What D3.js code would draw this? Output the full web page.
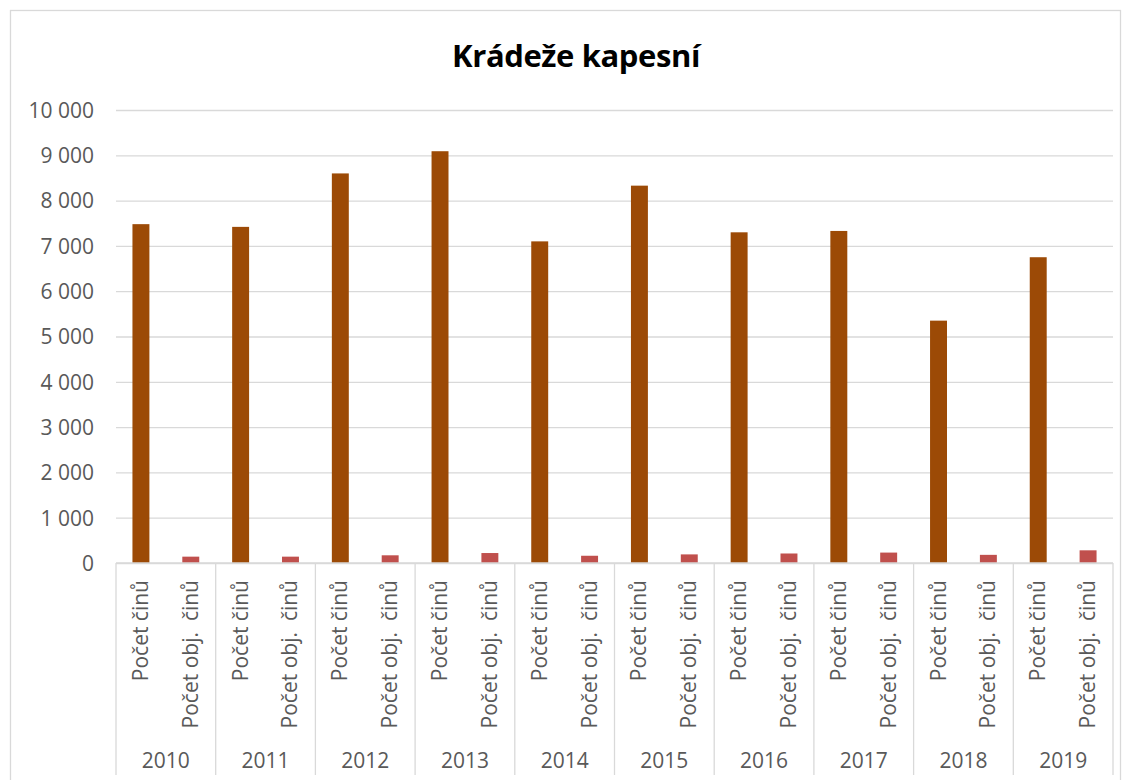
<!DOCTYPE html>
<html>
<head>
<meta charset="utf-8">
<script src="https://cdn.jsdelivr.net/npm/d3@7"></script>
<style>
  body { margin: 0; background: #fff; }
  text { font-family: "Open Sans", "Noto Sans", sans-serif; }
</style>
</head>
<body>
<div id="chart"></div>
<script>
const years = ["2010", "2011", "2012", "2013", "2014", "2015", "2016", "2017", "2018", "2019"];
const series = ["Počet činů", "Počet obj.  činů"];
const pocetCinu = [7480, 7420, 8600, 9090, 7100, 8330, 7300, 7330, 5350, 6750];
const pocetObjCinu = [140, 140, 170, 220, 160, 190, 210, 230, 180, 280];
const yTicks = [0, 1000, 2000, 3000, 4000, 5000, 6000, 7000, 8000, 9000, 10000];

const width = 1131, height = 780;
const margin = {top: 110, right: 18, bottom: 217, left: 116};
const colors = ["#9c4a06", "#c0504d"];

const svg = d3.select('#chart').append('svg')
  .attr('width', width).attr('height', height);

// outer chart border
svg.append('rect')
  .attr('x', 10.5).attr('y', 10.5)
  .attr('width', 1110).attr('height', 790)
  .attr('fill', 'none').attr('stroke', '#d9d9d9').attr('stroke-width', 1.3);

svg.append('text')
  .attr('x', 576).attr('y', 67)
  .attr('text-anchor', 'middle')
  .attr('font-size', 31).attr('font-weight', 'bold')
  .attr('letter-spacing', -0.4)
  .attr('fill', '#000')
  .text('Krádeže kapesní');

const x0 = d3.scaleBand()
  .domain(years)
  .range([margin.left, width - margin.right])
  .padding(0);

const x1 = d3.scaleBand()
  .domain(series)
  .range([0, x0.bandwidth()])
  .paddingInner(0.66).paddingOuter(0.33);

const y = d3.scaleLinear()
  .domain([0, 10000])
  .range([height - margin.bottom, margin.top]);

const fmt = d3.formatLocale({decimal: ",", thousands: " ", grouping: [3], currency: ["", " Kč"]}).format(",d");

// gridlines
const grid = svg.append('g')
  .attr('transform', `translate(${margin.left},0)`)
  .call(d3.axisLeft(y).tickValues(yTicks).tickSize(-(width - margin.right - margin.left)).tickFormat(''));
grid.select('.domain').remove();
grid.selectAll('line').attr('stroke', '#d9d9d9').attr('stroke-width', 1.3);

// y labels
const yAxis = svg.append('g')
  .attr('transform', `translate(${margin.left - 22},0)`)
  .call(d3.axisLeft(y).tickValues(yTicks).tickSize(0).tickFormat(fmt));
yAxis.select('.domain').remove();
yAxis.selectAll('text')
  .attr('font-size', 21).attr('fill', '#595959').attr('x', 0).attr('dy', '0.35em')
  .attr('font-family', '"Open Sans", sans-serif');

// bars
const rows = years.map((yr, i) => ({year: yr, values: [
  {key: series[0], value: pocetCinu[i]},
  {key: series[1], value: pocetObjCinu[i]}
]}));

const groups = svg.append('g').selectAll('g').data(rows).join('g')
  .attr('transform', d => `translate(${x0(d.year)},0)`);

groups.selectAll('rect').data(d => d.values).join('rect')
  .attr('x', d => x1(d.key))
  .attr('y', d => y(d.value))
  .attr('width', x1.bandwidth())
  .attr('height', d => y(0) - y(d.value))
  .attr('fill', (d, i) => colors[i]);

// category axis baseline
svg.append('line')
  .attr('x1', margin.left).attr('x2', width - margin.right)
  .attr('y1', y(0)).attr('y2', y(0))
  .attr('stroke', '#d9d9d9').attr('stroke-width', 1.3);

// group separators
const bounds = years.map(d => x0(d)).concat([x0.range()[1]]);
svg.append('g').selectAll('line').data(bounds).join('line')
  .attr('x1', d => d).attr('x2', d => d)
  .attr('y1', y(0)).attr('y2', 775)
  .attr('stroke', '#d9d9d9').attr('stroke-width', 1.3);

// series labels (rotated)
groups.selectAll('text.sub').data(d => d.values).join('text')
  .attr('class', 'sub')
  .attr('transform', d => `translate(${x1(d.key) + x1.bandwidth() / 2 + 7},${y(0) + 17}) rotate(-90)`)
  .attr('text-anchor', 'end')
  .attr('font-size', 21).attr('fill', '#595959')
  .style('white-space', 'pre')
  .text(d => d.key);

// year labels
groups.append('text')
  .attr('x', x0.bandwidth() / 2).attr('y', 768)
  .attr('text-anchor', 'middle')
  .attr('font-size', 21).attr('fill', '#595959')
  .text(d => d.year);
</script>
</body>
</html>
